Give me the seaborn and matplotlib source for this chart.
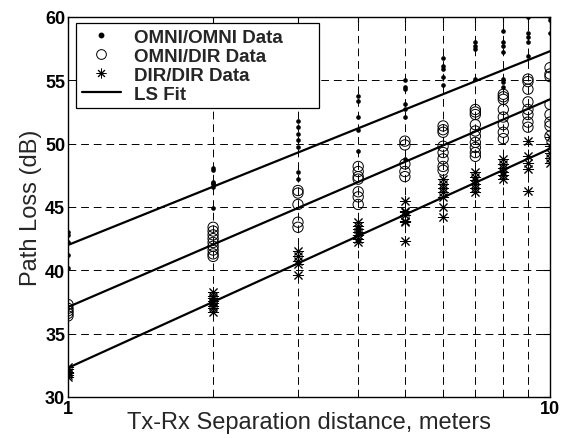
import numpy as np
import pandas as pd
import matplotlib
matplotlib.use('Agg')
import matplotlib.pyplot as plt
import seaborn as sns
from matplotlib.lines import Line2D
from matplotlib.ticker import NullFormatter, FixedLocator

# measured path loss (dB) at each Tx-Rx separation (m)
distances = [1, 2, 3, 4, 5, 6, 7, 8, 9, 10]

omni_omni = [
    [43.0, 42.8, 42.2, 41.2, 40.2],
    [48.1, 47.9, 47.0, 46.9, 46.8, 46.6, 44.9],
    [51.8, 51.3, 50.8, 50.3, 49.7, 47.8, 47.2],
    [53.8, 53.4, 52.1, 51.1, 49.4],
    [55.0, 54.5, 54.3, 53.1, 52.7, 52.1, 48.8],
    [56.8, 56.1, 55.9, 55.3, 54.6],
    [58.0, 57.7, 57.5, 55.1],
    [58.9, 58.0, 57.7, 57.2, 55.1, 54.9, 54.5],
    [60.0, 58.7, 58.4, 58.0, 56.9],
    [60.0, 59.8, 58.7],
]

omni_dir = [
    [37.3, 37.0, 36.8, 36.6, 36.4],
    [43.4, 43.1, 42.8, 42.5, 42.2, 41.9, 41.6, 41.3, 41.1],
    [46.3, 46.1, 45.2, 43.8, 43.4],
    [48.2, 47.8, 47.4, 47.2, 46.2, 45.8, 45.2],
    [50.2, 49.9, 48.4, 47.8, 47.4],
    [51.4, 51.1, 50.9, 49.8, 49.3, 48.8, 48.2, 47.9],
    [52.7, 52.5, 52.3, 51.5, 51.0, 50.6, 50.1, 49.7, 49.3, 49.0],
    [53.9, 53.7, 53.5, 52.7, 52.1, 51.5, 50.9, 50.4],
    [55.1, 54.9, 54.3, 53.3, 52.7, 52.3, 51.7, 51.3],
    [56.0, 55.5, 55.3, 53.1, 52.3, 51.7, 51.4, 50.6],
]

dir_dir = [
    [32.4, 32.2, 32.0, 31.9, 31.7, 31.6],
    [38.3, 38.0, 37.8, 37.6, 37.4, 37.2, 37.0, 36.7],
    [41.5, 41.1, 40.7, 40.5, 39.6],
    [43.8, 43.5, 43.3, 43.0, 42.8, 42.5, 42.2],
    [45.5, 44.7, 44.6, 44.4, 43.9, 43.8, 42.3],
    [47.2, 46.8, 46.5, 46.2, 45.8, 45.0, 44.2],
    [47.8, 47.4, 47.1, 46.8, 46.5, 46.2],
    [48.8, 48.4, 48.1, 47.8, 47.5, 47.2],
    [50.2, 49.0, 48.5, 48.0, 46.3],
    [50.5, 49.8, 49.3, 48.9, 48.5],
]

# LS fit: PL = intercept + slope*log10(d)
fit_intercepts = [42.0, 37.1, 32.3]
fit_slopes = [15.3, 16.4, 17.3]

labels = ['OMNI/OMNI Data', 'OMNI/DIR Data', 'DIR/DIR Data', 'LS Fit']


def to_frame(series):
    rows = [(d, v) for d, vals in zip(distances, series) for v in vals]
    return pd.DataFrame(rows, columns=['dist', 'pl'])


sns.set_style('white')
plt.rcParams['font.family'] = ['Liberation Sans', 'DejaVu Sans']

fig = plt.figure(figsize=(5.65, 4.39), dpi=100)
ax = fig.add_axes([68 / 565, 1 - 398 / 439, 482 / 565, 380 / 439])
ax.set_xscale('log')

asterisk = (8, 2, 0)
sns.scatterplot(data=to_frame(omni_omni), x='dist', y='pl', ax=ax, marker='o',
                s=11, color='black', edgecolor='black', linewidth=0, zorder=3)
sns.scatterplot(data=to_frame(omni_dir), x='dist', y='pl', ax=ax, marker='o',
                s=55, facecolor='none', edgecolor='black', linewidth=0.7, zorder=3)
sns.scatterplot(data=to_frame(dir_dir), x='dist', y='pl', ax=ax, marker=asterisk,
                s=55, color='black', linewidth=0.7, zorder=3)

dfit = np.array([1.0, 10.0])
for a, b in zip(fit_intercepts, fit_slopes):
    sns.lineplot(x=dfit, y=a + b * np.log10(dfit), ax=ax, color='black',
                 linewidth=1.6, zorder=4)

ax.set_xlim(1, 10)
ax.set_ylim(30, 60)
ax.set_yticks([30, 35, 40, 45, 50, 55, 60])
ax.xaxis.set_major_locator(FixedLocator([1, 10]))
ax.set_xticklabels(['1', '10'])
ax.xaxis.set_minor_locator(FixedLocator([2, 3, 4, 5, 6, 7, 8, 9]))
ax.xaxis.set_minor_formatter(NullFormatter())

ax.grid(True, which='both', color='black', linestyle=(0, (8, 5)), linewidth=0.7)
ax.tick_params(which='both', direction='in', top=True, right=True,
               colors='black', width=0.8)
ax.tick_params(which='major', length=5, labelsize=13, pad=2)
ax.tick_params(which='minor', length=4)
for t in ax.get_xticklabels() + ax.get_yticklabels():
    t.set_fontweight('bold')
for sp in ax.spines.values():
    sp.set_color('black')
    sp.set_linewidth(1.0)

ax.set_xlabel('Tx-Rx Separation distance, meters', fontsize=17, labelpad=-4)
ax.set_ylabel('Path Loss (dB)', fontsize=17, labelpad=2)

handles = [
    Line2D([], [], linestyle='none', marker='o', markersize=3.2, color='black'),
    Line2D([], [], linestyle='none', marker='o', markersize=7, markerfacecolor='none',
           markeredgecolor='black', markeredgewidth=0.7),
    Line2D([], [], linestyle='none', marker=asterisk, markersize=7, color='black',
           markeredgewidth=0.7),
    Line2D([], [], color='black', linewidth=1.6),
]
leg = ax.legend(handles, labels, loc='upper left',
                bbox_to_anchor=(8 / 482, 1 - 6 / 380 - 0.01, 243 / 482, 0.01),
                mode='expand', borderaxespad=0, fancybox=False, framealpha=1,
                edgecolor='black', prop={'weight': 'bold', 'size': 13.5},
                handlelength=2.1, handletextpad=0.7, labelspacing=0.1,
                borderpad=0.3)
leg.get_frame().set_linewidth(0.9)
leg.set_zorder(5)

fig.savefig('out.png', dpi=100)
